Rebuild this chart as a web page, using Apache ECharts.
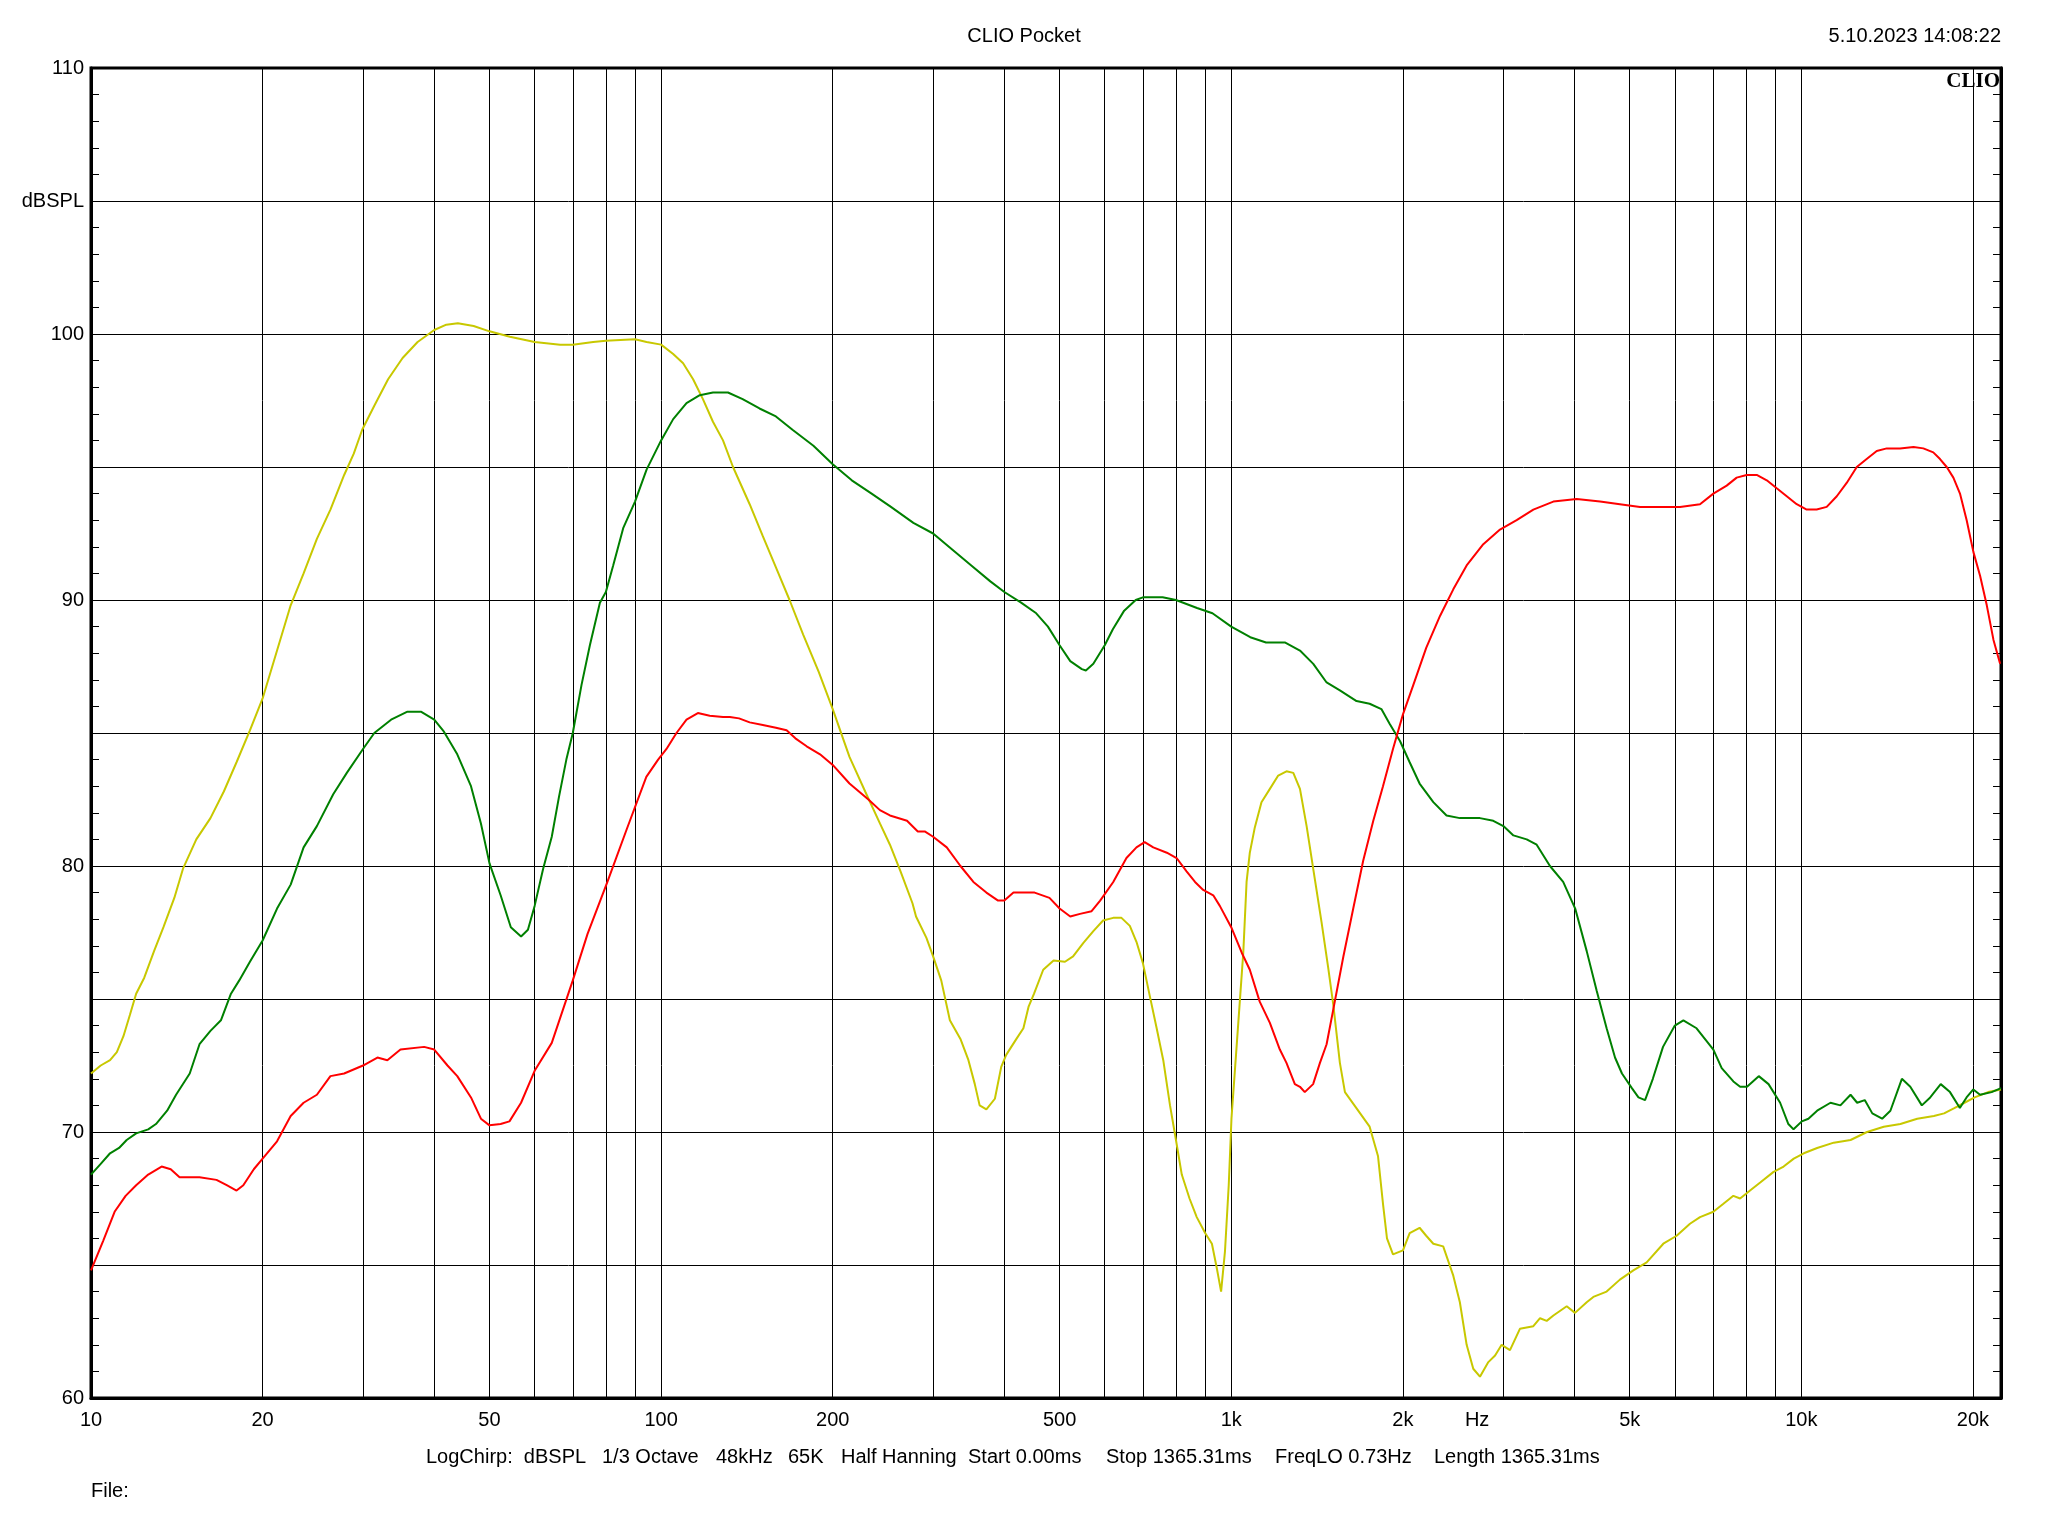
<!DOCTYPE html>
<html><head><meta charset="utf-8">
<script src="https://cdn.jsdelivr.net/npm/echarts@6/dist/echarts.min.js"></script>
<style>html,body{margin:0;padding:0;background:#fff}#c{width:2048px;height:1536px}</style>
</head><body><div id="c"></div>
<script>
// ---- data (Hz, dBSPL) ----
const yellowFreq = [10,10.4,10.8,11.1,11.4,11.7,12,12.4,12.9,13.4,14,14.5,15.3,16.2,17.1,18,19,20,21.2,22.4,23.6,24.9,26.3,27.8,28.9,29.9,31.4,33.2,35.2,37.4,40,42,44,46.9,50,54.3,60,66.5,70,76,80,90,94.3,100,105,109.3,113.8,118.4,123.3,128.4,133.7,143,150.8,159.2,168,177.5,189,200,214,228,242,252,263,276,280,292,300,310,321,335,346,355,362,372,385,395,403,420,432,441,451,468,488,511,528,550,573,596,621,642,664,682,700,720,740,760,781,800,819,845,870,900,925,945,960,975,990,1001,1029,1050,1064,1078,1100,1130,1169,1209,1250,1285,1320,1356,1402,1440,1479,1510,1551,1583,1658,1749,1809,1846,1876,1922,2001,2056,2140,2198,2262,2354,2452,2518,2588,2658,2731,2825,2903,2981,3083,3209,3388,3481,3576,3674,3877,4009,4203,4317,4555,4806,5074,5355,5727,6044,6378,6642,7010,7300,7600,7810,8130,8470,8940,9310,9700,10100,10660,11400,12200,13040,13950,14920,15970,17080,17800,18550,19330,20140,21260,22400];
const yellowDb = [72.2,72.5,72.7,73.0,73.6,74.4,75.2,75.8,76.8,77.7,78.8,79.9,81.0,81.8,82.8,83.9,85.1,86.3,88.1,89.8,91.0,92.3,93.4,94.7,95.5,96.4,97.3,98.3,99.1,99.7,100.15,100.35,100.4,100.3,100.1,99.9,99.7,99.6,99.6,99.7,99.75,99.8,99.7,99.6,99.25,98.9,98.3,97.55,96.7,96.0,95.0,93.6,92.4,91.2,90.0,88.7,87.3,85.9,84.1,82.8,81.6,80.8,79.8,78.6,78.1,77.3,76.6,75.7,74.2,73.5,72.7,71.8,71.0,70.85,71.25,72.45,72.9,73.5,73.9,74.7,75.2,76.1,76.45,76.4,76.6,77.1,77.55,77.95,78.05,78.05,77.75,77.15,76.35,75.1,73.9,72.7,71.0,69.7,68.4,67.5,66.8,66.2,65.8,64.8,64.0,65.5,68.0,70.5,74.1,76.75,79.4,80.5,81.45,82.4,82.9,83.4,83.56,83.5,82.9,81.5,79.5,77.9,76.2,74.8,72.6,71.5,70.9,70.2,69.1,67.3,66.0,65.4,65.55,66.2,66.4,66.1,65.8,65.7,64.6,63.6,62.0,61.1,60.8,61.35,61.6,62.0,61.8,62.6,62.7,63.0,62.9,63.1,63.45,63.2,63.6,63.8,64.0,64.45,64.8,65.1,65.8,66.1,66.55,66.8,67.0,67.3,67.6,67.5,67.8,68.1,68.5,68.7,69.0,69.2,69.4,69.6,69.7,70.0,70.2,70.3,70.5,70.6,70.7,70.9,71.1,71.3,71.5,71.6];

const greenFreq = [10,10.4,10.8,11.2,11.55,12,12.6,13,13.6,14.1,14.9,15.5,16.2,16.9,17.6,18.2,19,20,21.2,22.4,23.6,24.9,26.6,28.1,30,31.4,33.6,35.9,37.9,40,41.6,43.9,46.4,48.3,50,52.3,54.5,56.8,58.4,60,62.1,64.3,66.2,68.2,70,72.5,75,78.1,80,82.4,85.8,90,94.3,100,105,110.8,116.9,123.3,131,139,148.8,159,170,185,200,216,234,253,277,300,324,350,378,400,428,455,477,500,522,547,556,573,600,620,649,680,700,758,800,871,927,1000,1080,1151,1244,1320,1393,1470,1551,1659,1749,1834,1896,1977,2056,2140,2262,2386,2518,2731,2882,3002,3126,3298,3434,3623,3822,4012,4203,4377,4555,4712,4846,5044,5180,5320,5490,5720,6000,6210,6550,7010,7250,7600,7810,8030,8420,8760,9180,9490,9690,10020,10290,10660,11250,11710,12200,12530,12920,13320,13860,14330,15010,15530,16270,16830,17560,18230,18970,19490,20030,20580,21570,22400];
const greenDb = [68.4,68.8,69.2,69.4,69.7,69.95,70.1,70.3,70.8,71.4,72.2,73.3,73.8,74.2,75.2,75.7,76.4,77.2,78.4,79.3,80.7,81.5,82.7,83.5,84.4,85.0,85.5,85.8,85.8,85.5,85.05,84.2,83.0,81.6,80.1,78.9,77.7,77.35,77.6,78.5,79.9,81.1,82.6,84.0,85.0,86.8,88.3,89.9,90.3,91.3,92.7,93.7,94.9,96.0,96.8,97.4,97.7,97.8,97.8,97.55,97.2,96.9,96.4,95.8,95.1,94.5,94.0,93.5,92.9,92.5,91.9,91.3,90.7,90.3,89.9,89.5,89.0,88.3,87.7,87.4,87.35,87.6,88.3,88.9,89.6,90.0,90.1,90.1,90.0,89.7,89.5,89.0,88.6,88.4,88.4,88.1,87.6,86.9,86.6,86.2,86.1,85.9,85.35,84.7,83.9,83.1,82.4,81.9,81.8,81.8,81.7,81.5,81.15,81.0,80.8,80.0,79.4,78.4,76.8,75.3,73.9,72.8,72.2,71.65,71.3,71.2,72.0,73.2,74.0,74.2,73.9,73.1,72.4,71.9,71.7,71.7,72.1,71.8,71.1,70.3,70.1,70.4,70.5,70.8,71.1,71.0,71.4,71.1,71.2,70.7,70.5,70.8,72.0,71.7,71.0,71.3,71.8,71.5,70.9,71.3,71.6,71.4,71.5,71.65];

const redFreq = [10,10.5,11,11.5,12,12.6,13.3,13.8,14.3,15.5,16.6,17.3,18,18.5,19.3,20,21.2,22.4,23.6,24.9,26.3,27.8,30,31.8,33.1,34.9,38.4,40,42.2,43.9,46.4,48.3,50,52.3,54.2,56.8,60,64.3,70,74.3,80.5,87.1,94.2,98.8,102.2,106.4,110.8,116,121.7,128.4,132,137,143,150.8,159,166,172,180,190,200,214,231,242,252,270,282,290,300,317,335,353,372,390,400,415,437,452,480,500,522,543,569,589,621,655,682,705,730,771,802,835,864,893,930,955,1000,1043,1078,1122,1169,1217,1250,1293,1320,1346,1392,1431,1470,1510,1573,1637,1704,1775,1846,1922,2001,2086,2198,2324,2452,2588,2768,2961,3167,3388,3673,4036,4436,4806,5212,5650,6127,6642,7010,7398,7702,8021,8352,8697,9055,9428,9815,10220,10640,11080,11540,12010,12510,13020,13560,14120,14900,15730,16370,17040,17510,17990,18480,18980,19500,20040,20590,21150,21730,22320];
const redDb = [64.8,65.9,67.0,67.6,68.0,68.4,68.7,68.6,68.3,68.3,68.2,68.0,67.8,68.0,68.6,69.0,69.65,70.6,71.1,71.4,72.1,72.2,72.5,72.8,72.7,73.1,73.2,73.1,72.5,72.1,71.3,70.5,70.25,70.3,70.4,71.1,72.3,73.35,75.7,77.45,79.4,81.4,83.35,84.0,84.4,85.0,85.5,85.75,85.65,85.6,85.6,85.55,85.4,85.3,85.2,85.1,84.8,84.5,84.2,83.8,83.1,82.5,82.1,81.9,81.7,81.3,81.3,81.1,80.7,80.0,79.4,79.0,78.7,78.7,79.0,79.0,79.0,78.8,78.4,78.1,78.2,78.3,78.7,79.4,80.3,80.7,80.9,80.7,80.5,80.3,79.8,79.4,79.1,78.9,78.5,77.7,76.75,76.1,74.9,74.1,73.1,72.6,71.8,71.7,71.5,71.8,72.6,73.3,74.6,76.6,78.4,80.2,81.7,83.0,84.4,85.7,86.8,88.2,89.4,90.4,91.3,92.1,92.65,93.0,93.4,93.7,93.8,93.7,93.6,93.5,93.5,93.5,93.6,94.0,94.3,94.6,94.7,94.7,94.5,94.2,93.9,93.6,93.4,93.4,93.5,93.9,94.4,95.0,95.3,95.6,95.7,95.7,95.75,95.7,95.55,95.3,95.0,94.6,94.0,93.0,91.8,90.9,89.8,88.5,87.6];

// ---- axes ----
const gridFreqs = [10,20,30,40,50,60,70,80,90,100,200,300,400,500,600,700,800,900,1000,2000,3000,4000,5000,6000,7000,8000,9000,10000,20000];
const xLabelFreqs = [10,20,50,100,200,500,1000,2000,2700,5000,10000,20000];
const xLabelTexts = ['10','20','50','100','200','500','1k','2k','Hz','5k','10k','20k'];
const yTickLabels = {60:'60',70:'70',80:'80',90:'90',100:'100',105:'dBSPL',110:'110'};

// ---- footer texts ----
const footerTexts = ['LogChirp:  dBSPL','1/3 Octave','48kHz','65K','Half Hanning','Start 0.00ms','Stop 1365.31ms','FreqLO 0.73Hz','Length 1365.31ms'];
const footerLefts = [426, 602, 716, 788, 841, 968, 1106, 1275, 1434];

const FONT = '"Liberation Sans", Arial, sans-serif';
function pairs(f, d){ return f.map((v,i)=>[v,d[i]]); }
function xLabel(v){
  let best = -1, bd = 1e9;
  for (let i=0;i<xLabelFreqs.length;i++){
    const d1 = Math.abs(Math.log10(v) - Math.log10(xLabelFreqs[i]));
    if (d1 < bd){ bd = d1; best = i; }
  }
  return bd < 0.01 ? xLabelTexts[best] : '';
}

const graphics = [
  {type:'text', left: 'center', top: 26, style:{text:'CLIO Pocket', font:'20px ' + FONT, fill:'#000'}},
  {type:'text', right: 47, top: 26, style:{text:'5.10.2023 14:08:22', font:'20px ' + FONT, fill:'#000'}},
  {type:'text', right: 48, top: 71, z: 10, style:{text:'CLIO', font:'bold 21px "Liberation Serif", "Times New Roman", serif', fill:'#000'}},
  {type:'text', left: 91, top: 1481, style:{text:'File:', font:'20px ' + FONT, fill:'#000'}}
];
footerTexts.forEach((t,i)=>graphics.push({type:'text', left: footerLefts[i], top: 1447, style:{text:t, font:'20px ' + FONT, fill:'#000'}}));

const chart = echarts.init(document.getElementById('c'), null, {renderer:'canvas'});
chart.setOption({
  animation: false,
  backgroundColor: '#fff',
  grid: {left: 91, right: 47, top: 68, bottom: 138, show: true, borderColor: '#000', borderWidth: 3, backgroundColor: 'transparent'},
  xAxis: {
    type: 'log', logBase: 10, min: 10, max: 22400,
    axisLine: {show: true, lineStyle: {color:'#000', width: 3}},
    axisTick: {show: false, customValues: gridFreqs},
    splitLine: {show: true, lineStyle: {color: '#000', width: 1}},
    axisLabel: {customValues: xLabelFreqs, formatter: xLabel, color:'#000', fontFamily: FONT, fontSize: 20, margin: 12, hideOverlap: false}
  },
  yAxis: [{
    type: 'value', min: 60, max: 110, interval: 5, position: 'left',
    axisLine: {show: true, lineStyle: {color:'#000', width: 3}},
    axisTick: {show: true, inside: true, length: 8, lineStyle: {color:'#000'}},
    minorTick: {show: true, splitNumber: 5, length: 8, lineStyle: {color:'#000'}},
    splitLine: {show: true, lineStyle: {color:'#000', width: 1}},
    axisLabel: {formatter: v => yTickLabels[v] || '', color:'#000', fontFamily: FONT, fontSize: 20, margin: 7}
  },{
    type: 'value', min: 60, max: 110, interval: 5, position: 'right',
    axisLine: {show: true, lineStyle: {color:'#000', width: 3}},
    axisTick: {show: true, inside: true, length: 8, lineStyle: {color:'#000'}},
    minorTick: {show: true, splitNumber: 5, length: 8, lineStyle: {color:'#000'}},
    splitLine: {show: false},
    axisLabel: {show: false}
  }],
  series: [
    {name:'yellow', type:'line', data: pairs(yellowFreq, yellowDb), showSymbol:false, symbol:'none', lineStyle:{color:'#c8c800', width:2}, itemStyle:{color:'#c8c800'}, z: 3},
    {name:'green', type:'line', data: pairs(greenFreq, greenDb), showSymbol:false, symbol:'none', lineStyle:{color:'#008000', width:2}, itemStyle:{color:'#008000'}, z: 4},
    {name:'red', type:'line', data: pairs(redFreq, redDb), showSymbol:false, symbol:'none', lineStyle:{color:'#ff0000', width:2}, itemStyle:{color:'#ff0000'}, z: 5}
  ],
  graphic: graphics
});
</script></body></html>
